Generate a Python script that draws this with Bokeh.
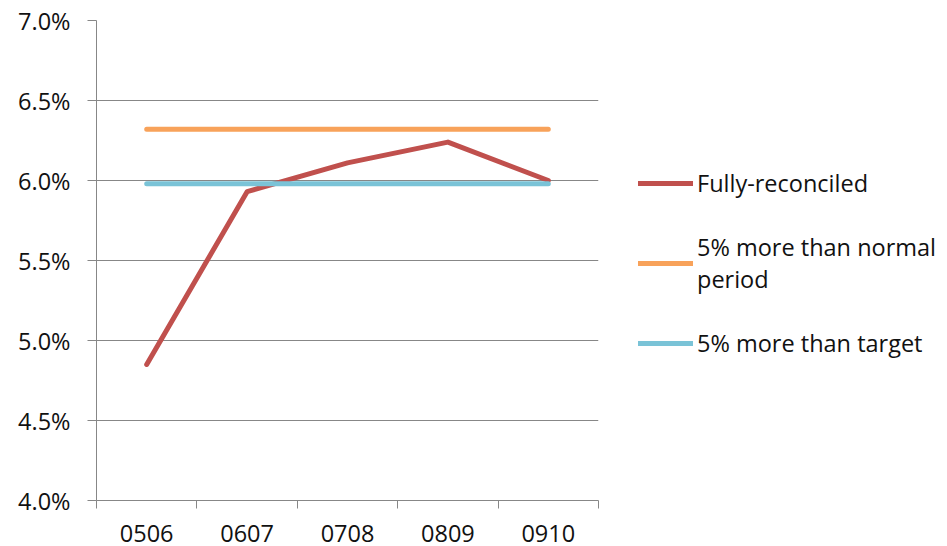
from bokeh.plotting import figure
from bokeh.models import (Range1d, FixedTicker, NumeralTickFormatter, Legend,
                          LegendItem, ColumnDataSource)
from bokeh.embed import file_html
from bokeh.resources import INLINE

periods = ["0506", "0607", "0708", "0809", "0910"]
fully_reconciled = [0.0485, 0.0593, 0.0611, 0.0624, 0.0600]
more_than_normal = [0.0632, 0.0632, 0.0632, 0.0632, 0.0632]
more_than_target = [0.0598, 0.0598, 0.0598, 0.0598, 0.0598]
y_ticks = [0.040, 0.045, 0.050, 0.055, 0.060, 0.065, 0.070]

FONT = "Open Sans"
TEXT = "#111111"
GRID = "#878787"
FS = "23.5px"

xpos = [i + 0.5 for i in range(len(periods))]
src = ColumnDataSource(dict(x=xpos, fr=fully_reconciled,
                            mn=more_than_normal, mt=more_than_target))

p = figure(frame_width=502, frame_height=480, output_backend="svg",
           toolbar_location=None,
           x_range=Range1d(0, len(periods)), y_range=Range1d(0.040, 0.070),
           min_border_left=96, min_border_right=0, min_border_top=20,
           min_border_bottom=46)
p.outline_line_color = None
p.background_fill_color = "white"
p.border_fill_color = "white"

r1 = p.line("x", "fr", source=src, line_color="#C0504D", line_width=5,
            line_cap="round", line_join="round")
r2 = p.line("x", "mn", source=src, line_color="#F8A25A", line_width=5,
            line_cap="round")
r3 = p.line("x", "mt", source=src, line_color="#7AC3D7", line_width=5,
            line_cap="round")

# x axis
xa = p.xaxis[0]
xa.ticker = FixedTicker(ticks=xpos, minor_ticks=list(range(len(periods) + 1)))
xa.major_label_overrides = {x: lab for x, lab in zip(xpos, periods)}
xa.major_tick_line_color = None
xa.minor_tick_line_color = GRID
xa.minor_tick_in = 0
xa.minor_tick_out = 8
xa.axis_line_color = GRID
xa.axis_line_width = 1
xa.major_label_text_font = FONT
xa.major_label_text_font_size = FS
xa.major_label_text_color = TEXT
xa.major_label_standoff = 16

# y axis
ya = p.yaxis[0]
ya.ticker = FixedTicker(ticks=y_ticks)
ya.formatter = NumeralTickFormatter(format="0.0%")
ya.major_tick_line_color = GRID
ya.major_tick_in = 0
ya.major_tick_out = 9
ya.minor_tick_line_color = None
ya.axis_line_color = GRID
ya.major_label_text_font = FONT
ya.major_label_text_font_size = FS
ya.major_label_text_color = TEXT
ya.major_label_standoff = 17

p.xgrid.grid_line_color = None
p.ygrid.ticker = FixedTicker(ticks=y_ticks)
p.ygrid.grid_line_color = GRID
p.ygrid.grid_line_width = 1

legend = Legend(items=[
    LegendItem(label="Fully-reconciled", renderers=[r1]),
    LegendItem(label="5% more than normal\nperiod", renderers=[r2]),
    LegendItem(label="5% more than target", renderers=[r3]),
], location=(40, 141), orientation="vertical")
legend.border_line_color = None
legend.background_fill_alpha = 0
legend.padding = 0
legend.margin = 0
legend.glyph_width = 55
legend.glyph_height = 20
legend.label_standoff = 4
legend.spacing = 32
legend.label_text_font = FONT
legend.label_text_font_size = FS
legend.label_text_color = TEXT
legend.label_text_line_height = 1.35
p.add_layout(legend, "right")

open("out.html", "w").write(file_html(p, INLINE))
